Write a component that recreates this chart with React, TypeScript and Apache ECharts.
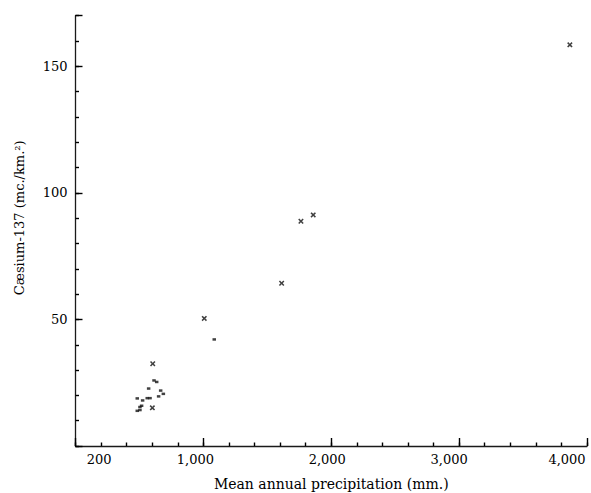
import React, { useEffect, useRef } from "react";
import * as echarts from "echarts";

const crossPrecip = [3866, 1859, 1763, 1612, 1007, 604, 601];
const crossCs = [158.5, 91.3, 88.8, 64.3, 50.4, 32.5, 15.1];
const dotPrecip = [1085, 614, 635, 572, 666, 687, 650, 483, 525, 561, 583, 517, 504, 483, 504];
const dotCs = [42.1, 25.9, 25.3, 22.7, 21.9, 20.6, 19.6, 18.8, 18.0, 18.9, 18.9, 15.9, 15.4, 13.9, 14.2];

const xLabelValues = [200, 1000, 2000, 3000, 4000];
const xLabelTexts = ["200", "1,000", "2,000", "3,000", "4,000"];
const xLabelShift = [2, 8, 4, 10, 20];
const yLabelValues = [50, 100, 150];

const FONT = "DejaVu Serif";
const INK = "#1a1a1a";
const TICK = "#000";

export default function App() {
  const ref = useRef<HTMLDivElement>(null);
  useEffect(() => {
    document.body.style.margin = "0";
    const chart = echarts.init(ref.current!, null, { renderer: "svg" });
    const rich: any = {};
    xLabelShift.forEach((s, i) => {
      rich["s" + i] = { fontFamily: FONT, fontSize: 13, color: "#000", padding: [0, 2 * s, 0, 0] };
    });
    chart.setOption({
      animation: false,
      backgroundColor: "#fff",
      grid: { left: 75.5, right: 4, top: 15.7, bottom: 47, outerBoundsMode: "none", containLabel: false },
      xAxis: [
        {
          type: "value",
          min: 0,
          max: 4000,
          interval: 200,
          name: "Mean annual precipitation (mm.)",
          nameLocation: "middle",
          nameGap: 31,
          nameTextStyle: { fontFamily: FONT, fontSize: 14, color: "#000" },
          axisLine: { show: true, onZero: false, lineStyle: { color: INK, width: 1.3 } },
          splitLine: { show: false },
          axisTick: { show: true, inside: true, length: 3.5, lineStyle: { color: TICK, width: 1.4 } },
          axisLabel: {
            show: true,
            margin: 7,
            showMinLabel: true,
            showMaxLabel: true,
            hideOverlap: false,
            formatter: (v: number) => {
              const i = xLabelValues.indexOf(Math.round(v));
              return i >= 0 ? `{s${i}|${xLabelTexts[i]}}` : "";
            },
            rich,
          },
        },
        {
          type: "value",
          min: 0,
          max: 4000,
          interval: 1000,
          position: "bottom",
          axisLine: { show: false, onZero: false },
          splitLine: { show: false },
          axisLabel: { show: false },
          axisTick: { show: true, inside: true, length: 8, lineStyle: { color: TICK, width: 1.4 } },
        },
      ],
      yAxis: [
        {
          type: "value",
          min: 0,
          max: 170,
          interval: 10,
          name: "Cæsium-137 (mc./km.²)",
          nameLocation: "middle",
          nameGap: 50,
          nameRotate: 90,
          nameTextStyle: { fontFamily: FONT, fontSize: 13, color: "#000", padding: [0, 0, 0, 26] },
          axisLine: { show: true, onZero: false, lineStyle: { color: INK, width: 1.3 } },
          splitLine: { show: false },
          axisTick: { show: true, inside: true, length: 3.5, lineStyle: { color: TICK, width: 1.4 } },
          axisLabel: {
            show: true,
            margin: 8,
            fontFamily: FONT,
            fontSize: 13,
            color: "#000",
            formatter: (v: number) => (yLabelValues.indexOf(Math.round(v)) >= 0 ? String(Math.round(v)) : ""),
          },
        },
        {
          type: "value",
          min: 0,
          max: 170,
          interval: 50,
          position: "left",
          axisLine: { show: false, onZero: false },
          splitLine: { show: false },
          axisLabel: { show: false },
          axisTick: { show: true, inside: true, length: 7, lineStyle: { color: TICK, width: 1.4 } },
        },
      ],
      series: [
        {
          type: "scatter",
          xAxisIndex: 0,
          yAxisIndex: 0,
          symbol: "path://M0,2L2,0L5,3L8,0L10,2L7,5L10,8L8,10L5,7L2,10L0,8L3,5Z",
          symbolSize: 5.5,
          itemStyle: { color: "#111" },
          data: crossPrecip.map((x, i) => [x, crossCs[i]]),
        },
        {
          type: "scatter",
          xAxisIndex: 0,
          yAxisIndex: 0,
          symbol: "rect",
          symbolSize: [3.5, 2.5],
          itemStyle: { color: "#111" },
          data: dotPrecip.map((x, i) => [x, dotCs[i]]),
        },
      ],
    });
    return () => chart.dispose();
  }, []);
  return <div ref={ref} style={{ width: 591, height: 493 }} />;
}
